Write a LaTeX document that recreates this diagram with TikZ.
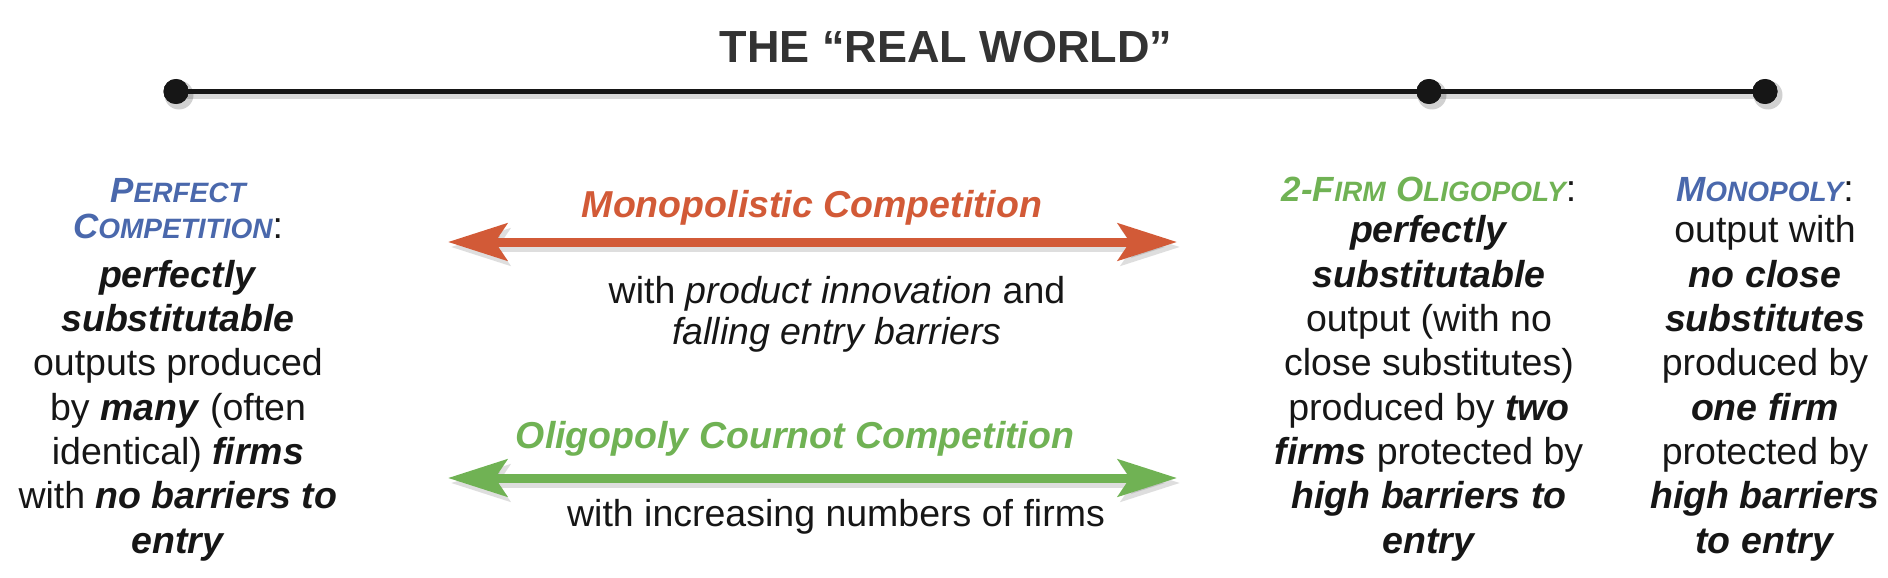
\documentclass[tikz,border=0pt]{standalone}
\usepackage{fontspec}
\setmainfont{Liberation Sans}
\usetikzlibrary{arrows.meta}
\definecolor{pcblue}{RGB}{74,104,172}
\definecolor{mcorange}{RGB}{210,90,55}
\definecolor{olgreen}{RGB}{112,178,84}
\definecolor{titlegray}{RGB}{51,51,51}
\definecolor{ink}{RGB}{22,22,22}
\newcommand{\bi}[1]{\textbf{\textit{#1}}}
\newcommand{\hsc}[2]{{\fontsize{35}{40}\selectfont #1}{\fontsize{28}{40}\selectfont #2}}
\begin{document}
\begin{tikzpicture}[x=1pt,y=-1pt,
  body/.style={font=\fontsize{37.5}{44.3}\selectfont, align=center, inner sep=0pt, anchor=base, text=ink},
  lbl/.style={font=\fontsize{37.5}{44.3}\selectfont\bfseries\itshape, inner sep=0pt, anchor=base},
  dot/.style={circle, fill=ink, minimum size=25pt, inner sep=0pt},
  dotshadow/.style={circle, fill=black, opacity=0.18, minimum size=29pt, inner sep=0pt},
  timeline/.style={draw=ink, line width=4.7pt},
  bigarrow/.style={line width=9pt, {Stealth[length=59pt,width=37pt,inset=12pt]}-{Stealth[length=59pt,width=37pt,inset=12pt]}},
  arrowshadow/.style={bigarrow, draw=black, opacity=0.13}
]
\useasboundingbox (0,0) rectangle (1888,578);

% title
\node[font=\fontsize{45}{50}\selectfont\bfseries, text=titlegray, anchor=base, inner sep=0pt] (title) at (946,63) {THE “REAL WORLD”};

% timeline
\coordinate (s1) at (179,95);
\coordinate (s3) at (1768,95);
\draw[draw=black, opacity=0.15, line width=8pt] (s1) -- (s3);
\node[dotshadow] at (179,95) {};
\node[dotshadow] at (1432,95) {};
\node[dotshadow] at (1768,95) {};
\node[dot] (d1) at (176,91.5) {};
\node[dot] (d2) at (1429,91.5) {};
\node[dot] (d3) at (1765,91.5) {};
\draw[timeline] (d1.center) -- (d3.center);
\node[dot] at (d1) {};
\node[dot] at (d2) {};
\node[dot] at (d3) {};

% side blocks (anchor base = baseline of last line)
\node[body] (pc) at (178,553) {\textcolor{pcblue}{\bfseries\itshape\hsc{P}{ERFECT}}\\[-8.3pt]
\textcolor{pcblue}{\bfseries\itshape\hsc{C}{OMPETITION}}:\\[4.7pt]
\bi{perfectly}\\ \bi{substitutable}\\ outputs produced\\ by \bi{many} (often\\ identical) \bi{firms}\\ with \bi{no barriers to}\\ \bi{entry}};

\node[body] (olig) at (1429,553) {\textcolor{olgreen}{\bfseries\itshape\hsc{2-F}{IRM} \hsc{O}{LIGOPOLY}}:\\[-3.3pt]
\bi{perfectly}\\ \bi{substitutable}\\ output (with no\\ close substitutes)\\ produced by \bi{two}\\ \bi{firms} protected by\\ \bi{high barriers to}\\ \bi{entry}};

\node[body] (mono) at (1765,553) {\textcolor{pcblue}{\bfseries\itshape\hsc{M}{ONOPOLY}}:\\[-3.3pt]
output with\\ \bi{no close}\\ \bi{substitutes}\\ produced by\\ \bi{one firm}\\ protected by\\ \bi{high barriers}\\ \bi{to entry}};

% monopolistic competition arrow
\coordinate (mcL) at (448,242);
\coordinate (mcR) at (1177,242);
\coordinate (mcLs) at (451,247);
\coordinate (mcRs) at (1180,247);
\draw[arrowshadow] (mcLs) -- (mcRs);
\draw[bigarrow, draw=mcorange, fill=mcorange] (mcL) -- (mcR);
\node[lbl, text=mcorange] (mclab) at (812,217) {Monopolistic Competition};
\node[body] (mcsub) at (837,344) {with \textit{product innovation} and\\[-3.3pt]\textit{falling entry barriers}};

% oligopoly cournot arrow
\coordinate (olL) at (448,478);
\coordinate (olR) at (1177,478);
\coordinate (olLs) at (451,483);
\coordinate (olRs) at (1180,483);
\draw[arrowshadow] (olLs) -- (olRs);
\draw[bigarrow, draw=olgreen, fill=olgreen] (olL) -- (olR);
\node[lbl, text=olgreen] (ollab) at (795,448) {Oligopoly Cournot Competition};
\node[body] (olsub) at (836,526) {with increasing numbers of firms};
\end{tikzpicture}
\end{document}
